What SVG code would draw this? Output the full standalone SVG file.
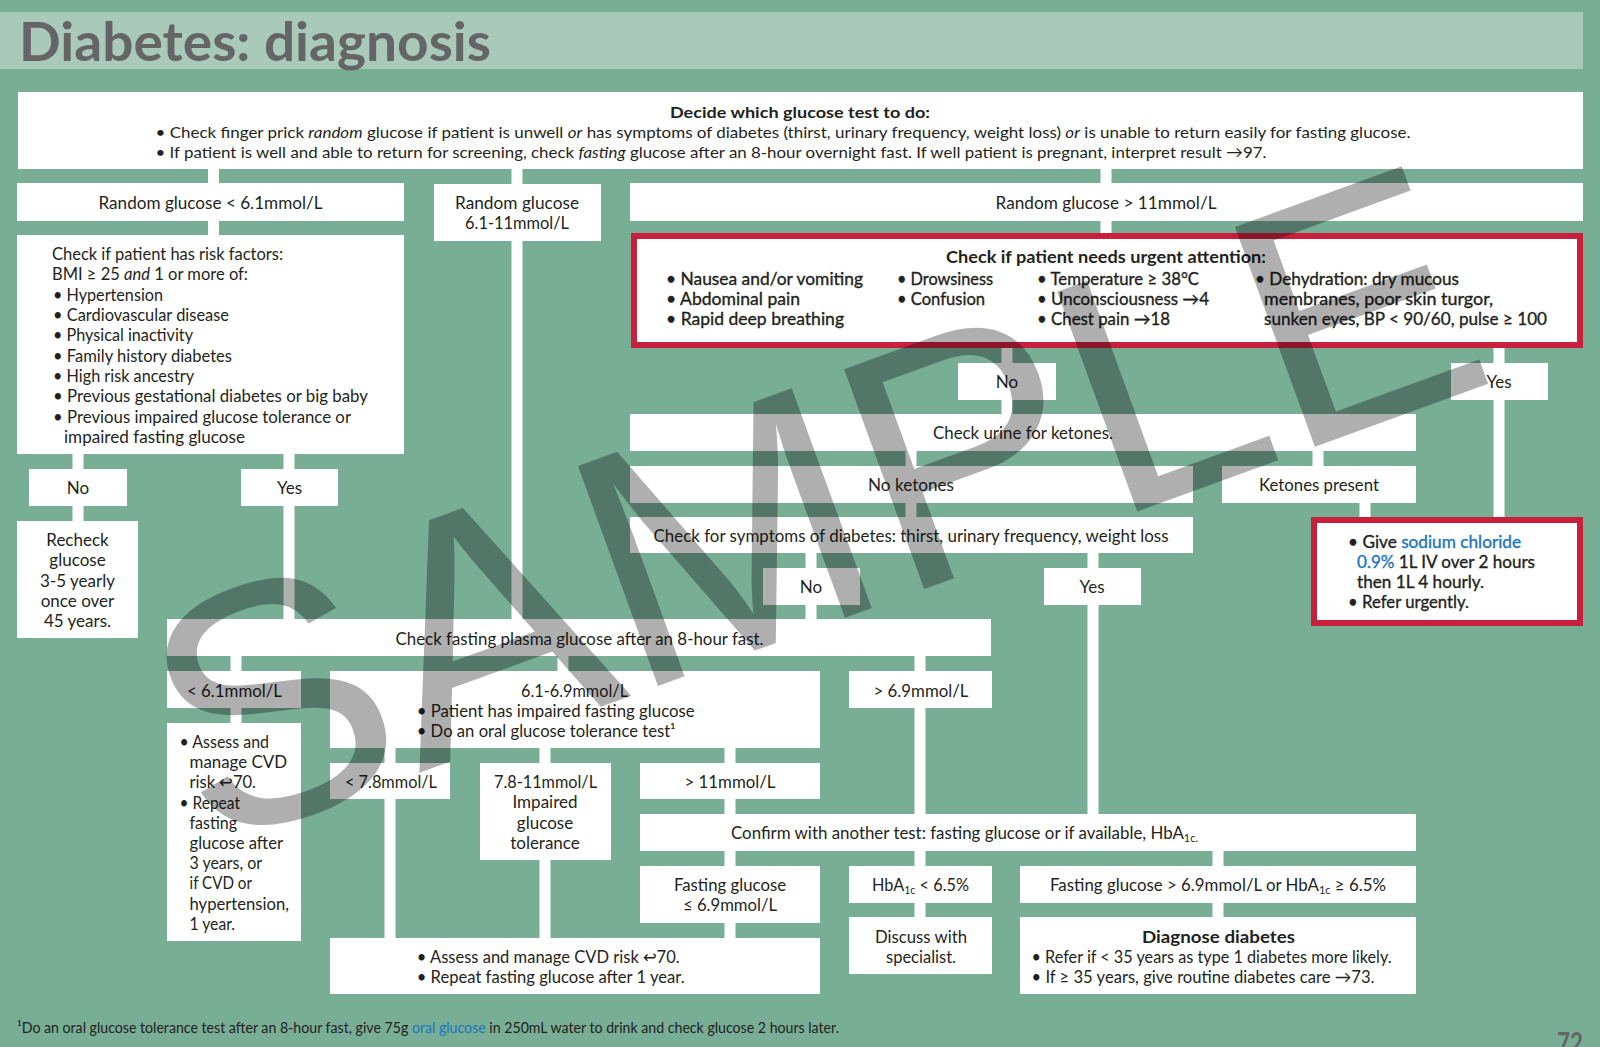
<svg xmlns="http://www.w3.org/2000/svg" width="1600" height="1047" viewBox="0 0 1600 1047">
<style>
.bg{fill:#78ad96}
.band{fill:#a9cabb}
.box{fill:#fff}
.red{fill:#fff;stroke:#c8203c;stroke-width:6}
.conn line{stroke:#fff;stroke-width:11}
text{font-family:Lato,"Open Sans","Liberation Sans",sans-serif;font-size:17px;fill:#231f20}
.c{text-anchor:middle}
.b{font-weight:bold}
.s{font-size:16px}
.sb{stroke:#231f20;stroke-width:0.35}
.blue{fill:#1b75bb}
.sub{font-size:11px}
</style>
<rect class="bg" x="0" y="0" width="1600" height="1047"/>
<rect class="band" x="0" y="12" width="1583" height="57"/>
<text x="19" y="61" font-size="54" font-weight="bold" fill="#656565" style="fill:#656565;font-size:54px" textLength="472" lengthAdjust="spacingAndGlyphs">Diabetes: diagnosis</text>

<g class="conn" id="connectors">
<line x1="213.5" y1="168" x2="213.5" y2="184"/>
<line x1="517" y1="168" x2="517" y2="185"/>
<line x1="1106" y1="168" x2="1106" y2="184"/>
<line x1="213.5" y1="220" x2="213.5" y2="236"/>
<line x1="1106" y1="220" x2="1106" y2="234"/>
<line x1="78" y1="453" x2="78" y2="470"/>
<line x1="289" y1="453" x2="289" y2="470"/>
<line x1="78" y1="505" x2="78" y2="522"/>
<line x1="289" y1="505" x2="289" y2="620"/>
<line x1="517" y1="240" x2="517" y2="620"/>
<line x1="1007" y1="347" x2="1007" y2="364"/>
<line x1="1499" y1="347" x2="1499" y2="364"/>
<line x1="1007" y1="399" x2="1007" y2="415"/>
<line x1="1499" y1="399" x2="1499" y2="518"/>
<line x1="911" y1="450" x2="911" y2="467"/>
<line x1="1318" y1="450" x2="1318" y2="467"/>
<line x1="1365" y1="502" x2="1365" y2="518"/>
<line x1="911" y1="502" x2="911" y2="518"/>
<line x1="811" y1="552" x2="811" y2="569"/>
<line x1="1093" y1="552" x2="1093" y2="569"/>
<line x1="811" y1="604" x2="811" y2="620"/>
<line x1="1093" y1="604" x2="1093" y2="815"/>
<line x1="236" y1="655" x2="236" y2="672"/>
<line x1="563" y1="655" x2="563" y2="672"/>
<line x1="920" y1="655" x2="920" y2="672"/>
<line x1="236" y1="707" x2="236" y2="724"/>
<line x1="390" y1="747" x2="390" y2="764"/>
<line x1="545" y1="747" x2="545" y2="764"/>
<line x1="730" y1="747" x2="730" y2="764"/>
<line x1="390" y1="798" x2="390" y2="939"/>
<line x1="545" y1="859" x2="545" y2="939"/>
<line x1="730" y1="798" x2="730" y2="815"/>
<line x1="920" y1="707" x2="920" y2="815"/>
<line x1="730" y1="850" x2="730" y2="867"/>
<line x1="920" y1="850" x2="920" y2="867"/>
<line x1="1218" y1="850" x2="1218" y2="867"/>
<line x1="730" y1="922" x2="730" y2="939"/>
<line x1="920" y1="902" x2="920" y2="918"/>
<line x1="1218" y1="902" x2="1218" y2="918"/>
</g>

<g id="n-top">
<rect class="box" x="18" y="92" width="1565" height="77"/>
<text class="c b s" x="800" y="118" textLength="260" lengthAdjust="spacingAndGlyphs">Decide which glucose test to do:</text>
<text class="s" x="155.5" y="138" textLength="1255" lengthAdjust="spacingAndGlyphs">• Check finger prick <tspan font-style="italic">random</tspan> glucose if patient is unwell <tspan font-style="italic">or</tspan> has symptoms of diabetes (thirst, urinary frequency, weight loss) <tspan font-style="italic">or</tspan> is unable to return easily for fasting glucose.</text>
<text class="s" x="155.5" y="157.5" textLength="1111" lengthAdjust="spacingAndGlyphs">• If patient is well and able to return for screening, check <tspan font-style="italic">fasting</tspan> glucose after an 8-hour overnight fast. If well patient is pregnant, interpret result →97.</text>
</g>

<g id="n-rlow">
<rect class="box" x="17" y="183" width="387" height="38"/>
<text class="c" x="210.5" y="209" textLength="224" lengthAdjust="spacingAndGlyphs">Random glucose &lt; 6.1mmol/L</text>
</g>
<g id="n-rmid">
<rect class="box" x="434" y="184" width="167" height="57"/>
<text class="c" x="517" y="209" textLength="124" lengthAdjust="spacingAndGlyphs">Random glucose</text>
<text class="c" x="517" y="229" textLength="104" lengthAdjust="spacingAndGlyphs">6.1-11mmol/L</text>
</g>
<g id="n-rhigh">
<rect class="box" x="630" y="183" width="953" height="38"/>
<text class="c" x="1106" y="209" textLength="221" lengthAdjust="spacingAndGlyphs">Random glucose &gt; 11mmol/L</text>
</g>

<g id="n-risk">
<rect class="box" x="17" y="235" width="387" height="219"/>
<text x="52" y="260" textLength="231" lengthAdjust="spacingAndGlyphs">Check if patient has risk factors:</text>
<text x="52" y="280.3" textLength="196" lengthAdjust="spacingAndGlyphs">BMI ≥ 25 <tspan font-style="italic">and</tspan> 1 or more of:</text>
<text x="53" y="300.7" textLength="110" lengthAdjust="spacingAndGlyphs">• Hypertension</text>
<text x="53" y="321" textLength="176" lengthAdjust="spacingAndGlyphs">• Cardiovascular disease</text>
<text x="53" y="341.3" textLength="140" lengthAdjust="spacingAndGlyphs">• Physical inactivity</text>
<text x="53" y="361.7" textLength="179" lengthAdjust="spacingAndGlyphs">• Family history diabetes</text>
<text x="53" y="382" textLength="141" lengthAdjust="spacingAndGlyphs">• High risk ancestry</text>
<text x="53" y="402.3" textLength="315" lengthAdjust="spacingAndGlyphs">• Previous gestational diabetes or big baby</text>
<text x="53" y="422.7" textLength="298" lengthAdjust="spacingAndGlyphs">• Previous impaired glucose tolerance or</text>
<text x="64" y="443" textLength="181" lengthAdjust="spacingAndGlyphs">impaired fasting glucose</text>
</g>

<g id="n-no1"><rect class="box" x="29" y="469" width="98" height="37"/><text class="c" x="78" y="494">No</text></g>
<g id="n-yes1"><rect class="box" x="241" y="469" width="97" height="37"/><text class="c" x="289.5" y="494">Yes</text></g>

<g id="n-recheck">
<rect class="box" x="17" y="521" width="121" height="117"/>
<text class="c" x="77.5" y="546">Recheck</text>
<text class="c" x="77.5" y="566.3">glucose</text>
<text class="c" x="77.5" y="586.6">3-5 yearly</text>
<text class="c" x="77.5" y="606.9">once over</text>
<text class="c" x="77.5" y="627.2">45 years.</text>
</g>

<g id="n-urgent">
<rect class="red" x="634" y="236" width="946" height="109"/>
<text class="c b" x="1106" y="263" textLength="320" lengthAdjust="spacingAndGlyphs">Check if patient needs urgent attention:</text>
<text class="sb" x="666" y="285" textLength="197" lengthAdjust="spacingAndGlyphs">• Nausea and/or vomiting</text>
<text class="sb" x="666" y="305" textLength="134" lengthAdjust="spacingAndGlyphs">• Abdominal pain</text>
<text class="sb" x="666" y="325" textLength="178" lengthAdjust="spacingAndGlyphs">• Rapid deep breathing</text>
<text class="sb" x="897" y="285" textLength="96" lengthAdjust="spacingAndGlyphs">• Drowsiness</text>
<text class="sb" x="897" y="305" textLength="88" lengthAdjust="spacingAndGlyphs">• Confusion</text>
<text class="sb" x="1037" y="285" textLength="162" lengthAdjust="spacingAndGlyphs">• Temperature ≥ 38°C</text>
<text class="sb" x="1037" y="305" textLength="172" lengthAdjust="spacingAndGlyphs">• Unconsciousness →4</text>
<text class="sb" x="1037" y="325" textLength="133" lengthAdjust="spacingAndGlyphs">• Chest pain →18</text>
<text class="sb" x="1255" y="285" textLength="204" lengthAdjust="spacingAndGlyphs">• Dehydration: dry mucous</text>
<text class="sb" x="1264" y="305" textLength="229" lengthAdjust="spacingAndGlyphs">membranes, poor skin turgor,</text>
<text class="sb" x="1264" y="325" textLength="283" lengthAdjust="spacingAndGlyphs">sunken eyes, BP &lt; 90/60, pulse ≥ 100</text>
</g>

<g id="n-no2"><rect class="box" x="958" y="363" width="98" height="37"/><text class="c" x="1007" y="388">No</text></g>
<g id="n-yes2"><rect class="box" x="1451" y="363" width="97" height="37"/><text class="c" x="1499" y="388">Yes</text></g>

<g id="n-urine"><rect class="box" x="630" y="414" width="786" height="37"/><text class="c" x="1023" y="439" textLength="180" lengthAdjust="spacingAndGlyphs">Check urine for ketones.</text></g>
<g id="n-noket"><rect class="box" x="630" y="466" width="563" height="37"/><text class="c" x="911" y="491" textLength="86" lengthAdjust="spacingAndGlyphs">No ketones</text></g>
<g id="n-ketp"><rect class="box" x="1222" y="466" width="194" height="37"/><text class="c" x="1319" y="491" textLength="120" lengthAdjust="spacingAndGlyphs">Ketones present</text></g>
<g id="n-symp"><rect class="box" x="630" y="517" width="563" height="36"/><text class="c" x="911" y="542" textLength="515" lengthAdjust="spacingAndGlyphs">Check for symptoms of diabetes: thirst, urinary frequency, weight loss</text></g>

<g id="n-sodium">
<rect class="red" x="1314" y="520" width="266" height="103"/>
<text class="sb" x="1348" y="547.5" textLength="173" lengthAdjust="spacingAndGlyphs">• Give <tspan class="blue" style="fill:#1b75bb;stroke:#1b75bb">sodium chloride</tspan></text>
<text class="sb" x="1357" y="567.5" textLength="178" lengthAdjust="spacingAndGlyphs"><tspan style="fill:#1b75bb;stroke:#1b75bb">0.9%</tspan> 1L IV over 2 hours</text>
<text class="sb" x="1357" y="588" textLength="127" lengthAdjust="spacingAndGlyphs">then 1L 4 hourly.</text>
<text class="sb" x="1348" y="608" textLength="121" lengthAdjust="spacingAndGlyphs">• Refer urgently.</text>
</g>

<g id="n-no3"><rect class="box" x="763" y="568" width="97" height="37"/><text class="c" x="811" y="593">No</text></g>
<g id="n-yes3"><rect class="box" x="1044" y="568" width="97" height="37"/><text class="c" x="1092" y="593">Yes</text></g>

<g id="n-fasting"><rect class="box" x="167" y="619" width="824" height="37"/><text class="c" x="579.5" y="645" textLength="368" lengthAdjust="spacingAndGlyphs">Check fasting plasma glucose after an 8-hour fast.</text></g>

<g id="n-lt61"><rect class="box" x="167" y="671" width="134" height="37"/><text class="c" x="234.5" y="697" textLength="95" lengthAdjust="spacingAndGlyphs">&lt; 6.1mmol/L</text></g>
<g id="n-ifg">
<rect class="box" x="330" y="671" width="490" height="77"/>
<text class="c" x="574.5" y="697" textLength="107" lengthAdjust="spacingAndGlyphs">6.1-6.9mmol/L</text>
<text x="416.7" y="717" textLength="278" lengthAdjust="spacingAndGlyphs">• Patient has impaired fasting glucose</text>
<text x="416.7" y="737" textLength="259" lengthAdjust="spacingAndGlyphs">• Do an oral glucose tolerance test¹</text>
</g>
<g id="n-gt69"><rect class="box" x="849" y="671" width="143" height="37"/><text class="c" x="921" y="697" textLength="95" lengthAdjust="spacingAndGlyphs">&gt; 6.9mmol/L</text></g>

<g id="n-assessL">
<rect class="box" x="167" y="723" width="134" height="218"/>
<text x="179.5" y="748" textLength="89.5" lengthAdjust="spacingAndGlyphs">• Assess and</text>
<text x="189.5" y="768.2" textLength="97.5" lengthAdjust="spacingAndGlyphs">manage CVD</text>
<text x="189.5" y="788.4" textLength="66.5" lengthAdjust="spacingAndGlyphs">risk ↩70.</text>
<text x="179.5" y="808.6" textLength="60.5" lengthAdjust="spacingAndGlyphs">• Repeat</text>
<text x="189.5" y="828.8" textLength="47.5" lengthAdjust="spacingAndGlyphs">fasting</text>
<text x="189.5" y="849" textLength="93.5" lengthAdjust="spacingAndGlyphs">glucose after</text>
<text x="189.5" y="869.2" textLength="72.5" lengthAdjust="spacingAndGlyphs">3 years, or</text>
<text x="189.5" y="889.4" textLength="62.5" lengthAdjust="spacingAndGlyphs">if CVD or</text>
<text x="189.5" y="909.6" textLength="99.5" lengthAdjust="spacingAndGlyphs">hypertension,</text>
<text x="189.5" y="929.8" textLength="45.5" lengthAdjust="spacingAndGlyphs">1 year.</text>
</g>

<g id="n-lt78"><rect class="box" x="330" y="763" width="120" height="36"/><text class="c" x="391" y="788" textLength="92" lengthAdjust="spacingAndGlyphs">&lt; 7.8mmol/L</text></g>
<g id="n-igt">
<rect class="box" x="480" y="763" width="131" height="97"/>
<text class="c" x="545.5" y="788" textLength="103" lengthAdjust="spacingAndGlyphs">7.8-11mmol/L</text>
<text class="c" x="545" y="808.3">Impaired</text>
<text class="c" x="545" y="828.6">glucose</text>
<text class="c" x="545" y="848.9">tolerance</text>
</g>
<g id="n-gt11"><rect class="box" x="640" y="763" width="180" height="36"/><text class="c" x="730" y="788" textLength="91" lengthAdjust="spacingAndGlyphs">&gt; 11mmol/L</text></g>

<g id="n-confirm"><rect class="box" x="640" y="814" width="776" height="37"/><text x="731" y="839" textLength="467" lengthAdjust="spacingAndGlyphs">Confirm with another test: fasting glucose or if available, HbA<tspan class="sub" style="font-size:11px" dy="3">1c.</tspan></text></g>

<g id="n-fgle"><rect class="box" x="640" y="866" width="180" height="57"/>
<text class="c" x="730" y="891" textLength="112" lengthAdjust="spacingAndGlyphs">Fasting glucose</text>
<text class="c" x="730" y="911" textLength="94" lengthAdjust="spacingAndGlyphs">≤ 6.9mmol/L</text></g>
<g id="n-hba"><rect class="box" x="849" y="866" width="143" height="37"/><text class="c" x="920.5" y="891" textLength="97" lengthAdjust="spacingAndGlyphs">HbA<tspan style="font-size:11px" dy="3">1c</tspan><tspan dy="-3"> &lt; 6.5%</tspan></text></g>
<g id="n-fggt"><rect class="box" x="1020" y="866" width="396" height="37"/><text class="c" x="1218" y="891" textLength="336" lengthAdjust="spacingAndGlyphs">Fasting glucose &gt; 6.9mmol/L or HbA<tspan style="font-size:11px" dy="3">1c</tspan><tspan dy="-3"> ≥ 6.5%</tspan></text></g>

<g id="n-discuss"><rect class="box" x="849" y="917" width="143" height="57"/>
<text class="c" x="921" y="943" textLength="92" lengthAdjust="spacingAndGlyphs">Discuss with</text>
<text class="c" x="921" y="963" textLength="70" lengthAdjust="spacingAndGlyphs">specialist.</text></g>
<g id="n-diagnose"><rect class="box" x="1020" y="917" width="396" height="77"/>
<text class="c b" x="1218.5" y="943" textLength="153" lengthAdjust="spacingAndGlyphs">Diagnose diabetes</text>
<text x="1031.5" y="963" textLength="360" lengthAdjust="spacingAndGlyphs">• Refer if &lt; 35 years as type 1 diabetes more likely.</text>
<text x="1031.5" y="983" textLength="343" lengthAdjust="spacingAndGlyphs">• If ≥ 35 years, give routine diabetes care →73.</text></g>

<g id="n-assessB"><rect class="box" x="330" y="938" width="490" height="56"/>
<text x="416.7" y="963" textLength="263" lengthAdjust="spacingAndGlyphs">• Assess and manage CVD risk ↩70.</text>
<text x="416.7" y="983" textLength="268" lengthAdjust="spacingAndGlyphs">• Repeat fasting glucose after 1 year.</text></g>

<text x="17" y="1033" style="font-size:14.5px" textLength="822" lengthAdjust="spacingAndGlyphs">¹Do an oral glucose tolerance test after an 8-hour fast, give 75g <tspan style="fill:#1b75bb">oral glucose</tspan> in 250mL water to drink and check glucose 2 hours later.</text>
<text x="1557" y="1053" style="font-size:28px;font-weight:bold;fill:#656565" textLength="26" lengthAdjust="spacingAndGlyphs">72</text>

<g transform="translate(812,500) rotate(-20)" opacity="0.31">
<text x="0" y="122" text-anchor="middle" style="font-family:'Liberation Sans',Arial,sans-serif;font-size:340px;fill:#000">SAMPLE</text>
</g>
</svg>
